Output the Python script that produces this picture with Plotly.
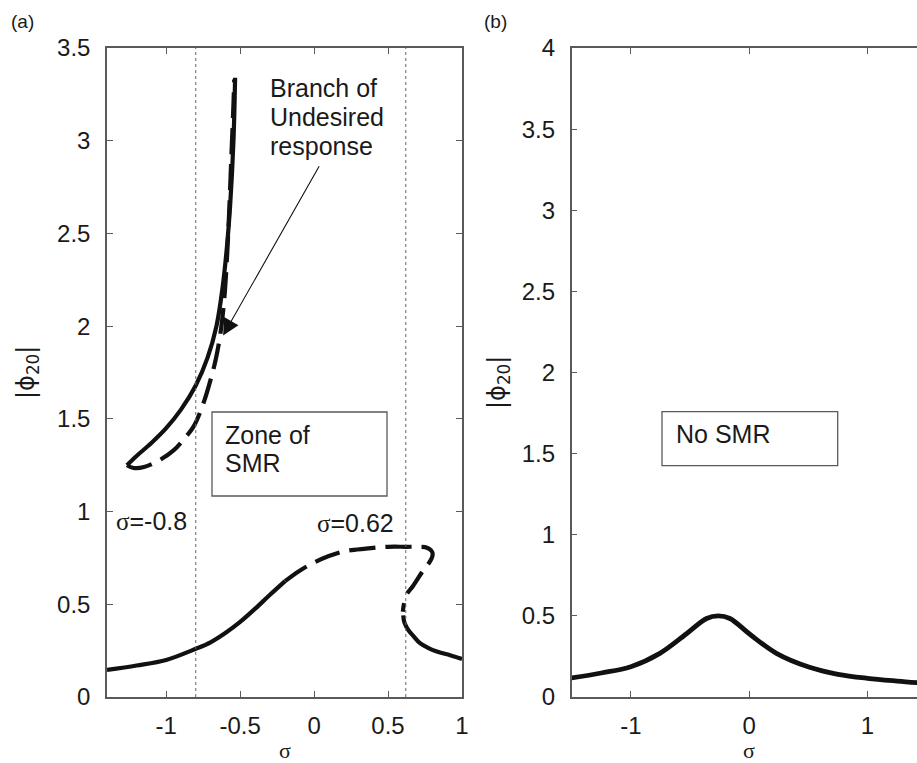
import plotly.graph_objects as go

W, H = 917, 763

# ---------------- data (panel a) ----------------
upper_solid_sigma = [-1.265, -1.2, -1.1, -1.0, -0.9, -0.8, -0.72, -0.66, -0.62, -0.59, -0.568, -0.545, -0.534]
upper_solid_phi = [1.25, 1.30, 1.37, 1.45, 1.55, 1.68, 1.83, 2.0, 2.2, 2.42, 2.645, 3.0, 3.34]

upper_dash_sigma = [-1.265, -1.22, -1.15, -1.04, -0.95, -0.87, -0.815, -0.75, -0.70, -0.665, -0.635, -0.61, -0.59, -0.575, -0.56, -0.545, -0.54]
upper_dash_phi = [1.25, 1.235, 1.24, 1.28, 1.33, 1.40, 1.458, 1.58, 1.71, 1.82, 1.95, 2.12, 2.35, 2.6, 2.9, 3.2, 3.33]

lower_solid1_sigma = [-1.4, -1.2, -1.0, -0.8, -0.7, -0.6, -0.5, -0.4, -0.3, -0.196]
lower_solid1_phi = [0.146, 0.17, 0.20, 0.26, 0.295, 0.345, 0.405, 0.475, 0.55, 0.625]

lower_dash_sigma = [-0.196, -0.1, 0.0, 0.1, 0.2, 0.35, 0.5, 0.62, 0.70, 0.75, 0.78, 0.80, 0.80, 0.79, 0.77, 0.745, 0.727, 0.67, 0.624, 0.605, 0.60]
lower_dash_phi = [0.625, 0.68, 0.725, 0.76, 0.785, 0.80, 0.81, 0.81, 0.81, 0.808, 0.798, 0.78, 0.76, 0.74, 0.715, 0.69, 0.67, 0.60, 0.55, 0.49, 0.46]

lower_solid2_sigma = [0.603, 0.608, 0.62, 0.637, 0.67, 0.716, 0.77, 0.83, 0.92, 1.0]
lower_solid2_phi = [0.44, 0.41, 0.385, 0.361, 0.33, 0.29, 0.265, 0.245, 0.225, 0.205]

vlines_sigma = [-0.8, 0.62]

# ---------------- data (panel b) ----------------
b_sigma = [-1.5, -1.25, -1.0, -0.755, -0.53, -0.36, -0.26, -0.163, 0.0, 0.23, 0.51, 0.75, 1.0, 1.25, 1.42]
b_phi = [0.118, 0.148, 0.187, 0.269, 0.39, 0.484, 0.50, 0.484, 0.39, 0.269, 0.183, 0.14, 0.115, 0.098, 0.088]

a_xticks = [-1, -0.5, 0, 0.5, 1]
a_xticktext = ["-1", "-0.5", "0", "0.5", "1"]
a_yticks = [0, 0.5, 1, 1.5, 2, 2.5, 3, 3.5]
a_yticktext = ["0", "0.5", "1", "1.5", "2", "2.5", "3", "3.5"]
b_xticks = [-1, 0, 1]
b_xticktext = ["-1", "0", "1"]
b_yticks = [0, 0.5, 1, 1.5, 2, 2.5, 3, 3.5, 4]
b_yticktext = ["0", "0.5", "1", "1.5", "2", "2.5", "3", "3.5", "4"]


def X(px):
    return px / W


def Y(py):
    return 1 - py / H


LW = 4.2
BLACK = "#111111"
AX = "#5a5a5a"
DASH = "26px,10px"

fig = go.Figure()

def add(x, y, xa, ya, dash="solid", width=LW):
    fig.add_trace(go.Scatter(x=x, y=y, xaxis=xa, yaxis=ya, mode="lines",
                             line=dict(color=BLACK, width=width, dash=dash, shape="spline", smoothing=1.0),
                             showlegend=False, hoverinfo="skip"))

add(upper_solid_sigma, upper_solid_phi, "x", "y")
add(upper_dash_sigma, upper_dash_phi, "x", "y", dash=DASH)
add(lower_solid1_sigma, lower_solid1_phi, "x", "y")
add(lower_dash_sigma, lower_dash_phi, "x", "y", dash=DASH)
add(lower_solid2_sigma, lower_solid2_phi, "x", "y")
add(b_sigma, b_phi, "x2", "y2", width=4.8)

tickfont = dict(family="Liberation Sans, Arial", size=24, color="#1a1a1a")
axis_common = dict(showline=True, linecolor=AX, linewidth=1.5, ticks="inside", ticklen=6,
                   tickcolor=AX, tickwidth=1.2, showgrid=False, zeroline=False,
                   tickfont=tickfont, fixedrange=True, automargin=False)

fig.update_layout(
    template="none",
    width=W, height=H, autosize=False, margin=dict(l=0, r=0, t=0, b=0, pad=0),
    paper_bgcolor="white", plot_bgcolor="white",
    xaxis=dict(domain=[X(107), X(462)], range=[-1.4, 1], anchor="y",
               tickvals=a_xticks, ticktext=a_xticktext, mirror="ticks",
               ticklabelstandoff=6, **axis_common),
    yaxis=dict(domain=[Y(697), Y(48)], range=[0, 3.5], anchor="x",
               tickvals=a_yticks, ticktext=a_yticktext, mirror="ticks",
               ticklabelstandoff=10, **axis_common),
    xaxis2=dict(domain=[X(571.7), 1.0], range=[-1.5, 1.418], anchor="y2",
                tickvals=b_xticks, ticktext=b_xticktext, mirror="ticks",
                ticklabelstandoff=6, **axis_common),
    yaxis2=dict(domain=[Y(697), Y(48)], range=[0, 4], anchor="x2",
                tickvals=b_yticks, ticktext=b_yticktext, mirror=False,
                ticklabelstandoff=10, **axis_common),
)

# dotted vertical lines
for s in vlines_sigma:
    fig.add_shape(type="line", xref="x", yref="y", x0=s, x1=s, y0=0, y1=3.5,
                  line=dict(color="#666666", width=1, dash="dot"))

# boxes
fig.add_shape(type="rect", xref="paper", yref="paper", x0=X(212), x1=X(387), y0=Y(496), y1=Y(412),
              line=dict(color=AX, width=1.3), fillcolor="rgba(0,0,0,0)")
fig.add_shape(type="rect", xref="paper", yref="paper", x0=X(662), x1=X(837.7), y0=Y(465.7), y1=Y(411.7),
              line=dict(color=AX, width=1.3), fillcolor="rgba(0,0,0,0)")

serif = "Liberation Serif, Times New Roman"

def txt(text, px, py, xanchor="left", size=25, family="Liberation Sans, Arial", angle=0):
    fig.add_annotation(text=text, x=X(px), y=Y(py), xref="paper", yref="paper",
                       xanchor=xanchor, yanchor="middle", showarrow=False, textangle=angle,
                       font=dict(family=family, size=size, color="#1a1a1a"))

txt("(a)", 9, 21, size=19)
txt("(b)", 482, 21, size=19)

txt("Branch of", 268, 88)
txt("Undesired", 268, 117)
txt("response", 268, 146)
txt("Zone of", 223, 435)
txt("SMR", 223, 463)
txt("No SMR", 674, 434)
txt("<span style='font-family:Liberation Serif'>σ</span>=-0.8", 114, 521)
txt("<span style='font-family:Liberation Serif'>σ</span>=0.62", 315, 523)

# axis titles
txt("σ", 285, 750, xanchor="center", size=22, family=serif)
txt("σ", 749, 750, xanchor="center", size=22, family=serif)
txt("|ϕ<sub>20</sub>|", 27, 373, xanchor="center", size=24, family="DejaVu Sans, Liberation Sans", angle=-90)
txt("|ϕ<sub>20</sub>|", 498, 383, xanchor="center", size=24, family="DejaVu Sans, Liberation Sans", angle=-90)

# arrow
fig.add_annotation(x=-0.615, y=1.95, ax=0.04, ay=2.87, xref="x", yref="y", axref="x", ayref="y",
                   text="", showarrow=True, arrowhead=2, arrowsize=3, arrowwidth=1.1,
                   arrowcolor=BLACK)

fig.write_html("out.html", config={"responsive": False, "displayModeBar": False},
               post_script="document.body.style.margin='0';document.body.style.overflow='hidden';")
